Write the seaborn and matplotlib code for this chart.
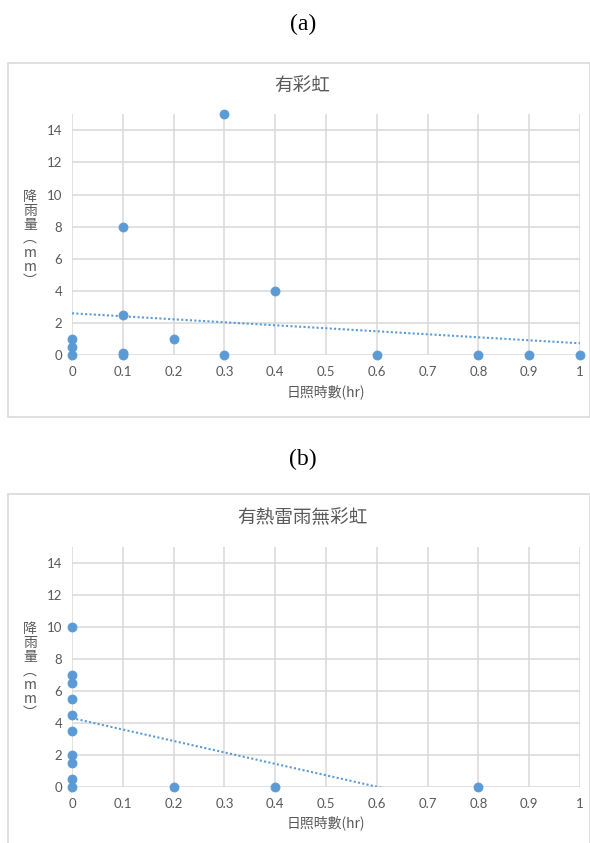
import numpy as np
import matplotlib
matplotlib.use("Agg")
import matplotlib.pyplot as plt
import seaborn as sns
import pandas as pd
from matplotlib.patches import Rectangle

# Rainfall vs. sunshine hours on days with a rainbow
rainbow_sun = [0, 0, 0, 0.1, 0.1, 0.1, 0.1, 0.2, 0.3, 0.3, 0.4, 0.6, 0.8, 0.9, 1.0]
rainbow_rain = [1, 0.5, 0, 8, 2.5, 0.1, 0, 1, 15, 0, 4, 0, 0, 0, 0]
rainbow_trend = [2.6, -1.87]          # intercept, slope of linear trendline

# Rainfall vs. sunshine hours on thunderstorm days without a rainbow
storm_sun = [0, 0, 0, 0, 0, 0, 0, 0, 0, 0, 0.2, 0.4, 0.8]
storm_rain = [10, 7, 6.5, 5.5, 4.5, 3.5, 2, 1.5, 0.5, 0, 0, 0, 0]
storm_trend = [4.3, -7.17]

panel_tags = ["(a)", "(b)"]
panel_titles = ["有彩虹", "有熱雷雨無彩虹"]
x_ticks = [0, 0.1, 0.2, 0.3, 0.4, 0.5, 0.6, 0.7, 0.8, 0.9, 1]
x_tick_labels = ["0", "0.1", "0.2", "0.3", "0.4", "0.5", "0.6", "0.7", "0.8", "0.9", "1"]
y_ticks = [0, 2, 4, 6, 8, 10, 12, 14]
x_label = "日照時數(hr)"
y_label = "降\n雨\n量\n︵\nm\nm\n︶"

sns.set_theme(style="white")
plt.rcParams["font.family"] = ["Noto Sans CJK TC", "DejaVu Sans"]

W, H = 590, 843
fig = plt.figure(figsize=(W / 100, H / 100), dpi=100)
fig.patch.set_facecolor("white")

BLUE = "#5B9BD5"
GRID = "#D9D9D9"
TEXT = "#595959"


def fxy(px, py):
    return px / W, 1 - py / H


layout = [
    # tag_y, chart frame (top, bottom), title_y, plot area (top, bottom), xlabel_y
    dict(tag_y=24, box=(62.7, 416.7), title_y=86, ax=(114.3, 355.0), xl_y=392),
    dict(tag_y=459, box=(494.0, 860.0), title_y=518, ax=(547.3, 786.7), xl_y=823),
]
series = [
    (rainbow_sun, rainbow_rain, rainbow_trend),
    (storm_sun, storm_rain, storm_trend),
]

AX_L, AX_R = 72.0, 580.0

for tag, title, lay, (xs, ys, trend) in zip(panel_tags, panel_titles, layout, series):
    # panel tag above each chart
    fig.text(*fxy(303, lay["tag_y"]), tag, ha="center", va="center",
             fontsize=17, family="Liberation Serif", color="black")

    # chart frame
    top, bot = lay["box"]
    fig.patches.append(Rectangle(fxy(7.5, bot), (589.5 - 7.5) / W, (bot - top) / H,
                                 transform=fig.transFigure, fill=False,
                                 edgecolor=GRID, lw=1.2, zorder=0))

    fig.text(*fxy(302, lay["title_y"]), title, ha="center", va="center",
             fontsize=13.4, color=TEXT)

    a_top, a_bot = lay["ax"]
    ax = fig.add_axes([AX_L / W, (H - a_bot) / H, (AX_R - AX_L) / W, (a_bot - a_top) / H])
    ax.set_facecolor("none")

    df = pd.DataFrame({"sun": xs, "rain": ys})
    sns.scatterplot(data=df, x="sun", y="rain", ax=ax, color=BLUE, s=42,
                    edgecolor=BLUE, linewidth=0.6, clip_on=False, zorder=4)

    tx = np.array([min(xs), max(xs)])
    ax.plot(tx, trend[0] + trend[1] * tx, color=BLUE, lw=1.5,
            ls=(0, (1, 1.1)), zorder=3)

    ax.set_xlim(0, 1)
    ax.set_ylim(0, 15)
    ax.set_xticks(x_ticks)
    ax.set_xticklabels(x_tick_labels)
    ax.set_yticks(y_ticks)
    ax.grid(True, color=GRID, lw=1.1)
    ax.set_axisbelow(True)
    for s in ax.spines.values():
        s.set_visible(False)
    ax.tick_params(axis="both", length=0, labelsize=9.5, labelcolor=TEXT)
    ax.tick_params(axis="x", pad=8)
    ax.tick_params(axis="y", pad=7)
    for lbl in ax.get_xticklabels() + ax.get_yticklabels():
        lbl.set_family(["Lato", "DejaVu Sans"])
    ax.set_xlabel("")
    ax.set_ylabel("")

    fig.text(*fxy((AX_L + AX_R) / 2, lay["xl_y"]), x_label, ha="center", va="center",
             fontsize=10, color=TEXT)
    fig.text(*fxy(30, (a_top + a_bot) / 2 + 4), y_label, ha="center", va="center",
             fontsize=10, color=TEXT, linespacing=1.0)

fig.savefig("out.png", dpi=100, facecolor="white")
